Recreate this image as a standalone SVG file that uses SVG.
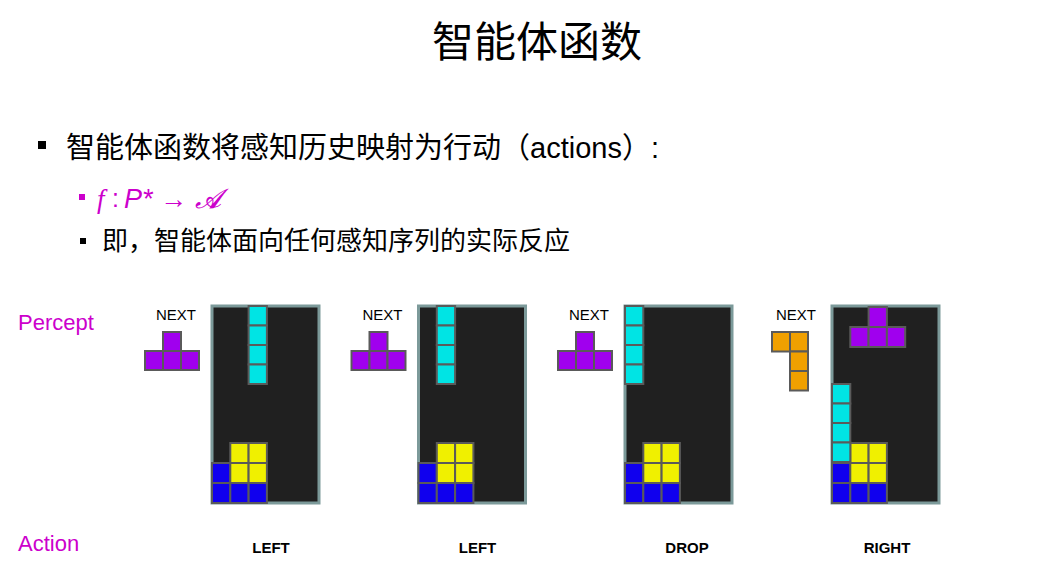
<svg xmlns="http://www.w3.org/2000/svg" width="1043" height="579" viewBox="0 0 1043 579">
<style>
.t{font-family:"Liberation Sans","Noto Sans CJK SC",sans-serif}
.c{stroke:#5a5a5a;stroke-width:2}
.b{fill:#202020;stroke:#7c9a9a;stroke-width:3}
.P{fill:#a000ee}.C{fill:#00e4e4}.Y{fill:#f0f000}.B{fill:#1000ee}.O{fill:#f0a000}
.n{font-size:15px;text-anchor:middle;fill:#000}
.a{font-size:15px;font-weight:bold;text-anchor:middle;fill:#000}
.m{font-size:22px;fill:#cc00cc}
</style>
<rect width="1043" height="579" fill="#fff"/>
<text class="t" x="537" y="57" font-size="42" text-anchor="middle">智能体函数</text>
<rect x="38" y="141" width="8" height="8"/>
<text class="t" x="66" y="158" font-size="29">智能体函数将感知历史映射为行动（actions）:</text>
<rect x="79" y="194" width="6" height="6" fill="#cc00cc"/>
<text x="97" y="208" font-size="27" fill="#cc00cc" font-family="Liberation Serif,serif" font-style="italic">f</text>
<text x="112" y="207" font-size="25" fill="#cc00cc" font-family="Liberation Sans,sans-serif">:</text>
<text x="124" y="208" font-size="27" fill="#cc00cc" font-family="Liberation Sans,sans-serif" font-style="italic">P* → 𝓐</text>
<rect x="80" y="238" width="6" height="6"/>
<text class="t" x="102" y="250" font-size="26">即，智能体面向任何感知序列的实际反应</text>
<text class="t m" x="18" y="330">Percept</text>
<text class="t m" x="18" y="551">Action</text>
<defs>
<g id="base">
<rect class="b" x="212" y="306" width="107" height="197"/>
<rect class="c B" x="212" y="483" width="18.3" height="20"/>
<rect class="c B" x="230.3" y="483" width="18.3" height="20"/>
<rect class="c B" x="248.6" y="483" width="18.3" height="20"/>
<rect class="c B" x="212" y="463" width="18.3" height="20"/>
<rect class="c Y" x="230.3" y="463" width="18.3" height="20"/>
<rect class="c Y" x="248.6" y="463" width="18.3" height="20"/>
<rect class="c Y" x="230.3" y="443" width="18.3" height="20"/>
<rect class="c Y" x="248.6" y="443" width="18.3" height="20"/>
</g>
<g id="tnext">
<rect class="c P" x="163" y="332" width="18" height="19"/>
<rect class="c P" x="145" y="351" width="18" height="19"/>
<rect class="c P" x="163" y="351" width="18" height="19"/>
<rect class="c P" x="181" y="351" width="18" height="19"/>
</g>
<g id="col"><rect class="c C" x="0" y="0" width="18.3" height="19.5"/><rect class="c C" x="0" y="19.5" width="18.3" height="19.5"/><rect class="c C" x="0" y="39" width="18.3" height="19.5"/><rect class="c C" x="0" y="58.5" width="18.3" height="19.5"/></g>
</defs>
<g id="board1"><text class="t n" x="176" y="320">NEXT</text><use href="#tnext"/><use href="#base"/><use href="#col" x="248.6" y="306"/><text class="t a" x="271" y="553">LEFT</text></g>
<g id="board2" transform="translate(206.5,0)"><text class="t n" x="176" y="320">NEXT</text><use href="#tnext"/><use href="#base"/><use href="#col" x="230.3" y="306"/><text class="t a" x="271" y="553">LEFT</text></g>
<g id="board3" transform="translate(413,0)"><text class="t n" x="176" y="320">NEXT</text><use href="#tnext"/><use href="#base"/><use href="#col" x="212" y="306"/><text class="t a" x="274" y="553">DROP</text></g>
<g id="board4" transform="translate(620,0)"><text class="t n" x="176" y="320">NEXT</text>
<rect class="c O" x="152" y="332" width="18" height="19.5"/><rect class="c O" x="170" y="332" width="18" height="19.5"/><rect class="c O" x="170" y="351.5" width="18" height="19.5"/><rect class="c O" x="170" y="371" width="18" height="19.5"/>
<use href="#base"/><use href="#col" x="212" y="384"/>
<rect class="c P" x="248.6" y="307" width="18.3" height="20"/><rect class="c P" x="230.3" y="327" width="18.3" height="20"/><rect class="c P" x="248.6" y="327" width="18.3" height="20"/><rect class="c P" x="266.9" y="327" width="18.3" height="20"/>
<text class="t a" x="267" y="553">RIGHT</text></g>
</svg>
